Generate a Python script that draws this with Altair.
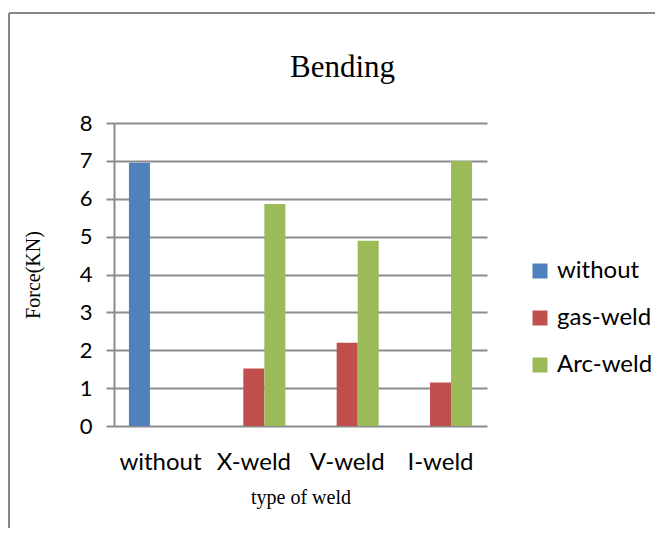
import altair as alt
import pandas as pd

categories = ["without", "X-weld", "V-weld", "I-weld"]
series = ["without", "gas-weld", "Arc-weld"]
without_vals = [6.95, None, None, None]
gas_vals = [None, 1.52, 2.2, 1.15]
arc_vals = [None, 5.86, 4.89, 7.0]
colors = ["#4F81BD", "#C0504D", "#9BBB59"]
y_ticks = [0, 1, 2, 3, 4, 5, 6, 7, 8]

rows = []
for s, vals in zip(series, [without_vals, gas_vals, arc_vals]):
    for c, v in zip(categories, vals):
        if v is not None:
            rows.append({"type": c, "series": s, "force": v})
df = pd.DataFrame(rows)

GRID = "#8C8C8C"
SANS = "Lato"
SERIF = "Liberation Serif"

bars = alt.Chart(df).mark_bar().encode(
    x=alt.X(
        "type:N",
        sort=categories,
        scale=alt.Scale(domain=categories, paddingInner=0.324, paddingOuter=0.16),
        axis=alt.Axis(
            title="type of weld",
            titleFont=SERIF,
            titleFontSize=20,
            titleFontWeight="normal",
            titleColor="black",
            titlePadding=13,
            labelFont=SANS,
            labelFontSize=24,
            labelColor="black",
            labelAngle=0,
            labelPadding=24,
            ticks=False,
            domain=False,
            grid=False,
        ),
    ),
    xOffset=alt.XOffset(
        "series:N",
        sort=series,
        scale=alt.Scale(domain=series, paddingInner=0, paddingOuter=0),
    ),
    y=alt.Y(
        "force:Q",
        scale=alt.Scale(domain=[0, 8], nice=False),
        axis=alt.Axis(
            values=y_ticks,
            title="Force(KN)",
            titleFont=SERIF,
            titleFontSize=20,
            titleFontWeight="normal",
            titleColor="black",
            titlePadding=36,
            labelFont=SANS,
            labelFontSize=22,
            labelColor="black",
            labelPadding=14,
            tickSize=8,
            tickColor=GRID,
            tickWidth=2,
            domainColor=GRID,
            domainWidth=2,
            gridColor=GRID,
            gridWidth=2,
            grid=True,
        ),
    ),
    color=alt.Color(
        "series:N",
        sort=series,
        scale=alt.Scale(domain=series, range=colors),
        legend=alt.Legend(
            title=None,
            orient="none",
            legendX=414,
            legendY=136,
            symbolType="square",
            symbolSize=225,
            symbolStrokeWidth=0,
            labelFont=SANS,
            labelFontSize=24,
            labelColor="black",
            labelOffset=5,
            rowPadding=23,
        ),
    ),
)

frame_left = alt.Chart(df).mark_rule(color="#868686", strokeWidth=2).encode(
    x=alt.value(-105), y=alt.value(-110), y2=alt.value(420)
)
frame_top = alt.Chart(df).mark_rule(color="#868686", strokeWidth=2).encode(
    x=alt.value(-105), x2=alt.value(560), y=alt.value(-110)
)

chart = alt.layer(bars, frame_left, frame_top).properties(
    width=373,
    height=303,
    autosize=alt.AutoSizeParams(type="none"),
    padding={"left": 106, "top": 115, "right": 168, "bottom": 102},
    title=alt.TitleParams(
        "Bending",
        font=SERIF,
        fontSize=31,
        fontWeight="normal",
        color="black",
        anchor="middle",
        dx=42,
        offset=-72,
    ),
).configure_view(stroke=None)

chart.save("out.html", embed_options={"renderer": "svg", "actions": False})
